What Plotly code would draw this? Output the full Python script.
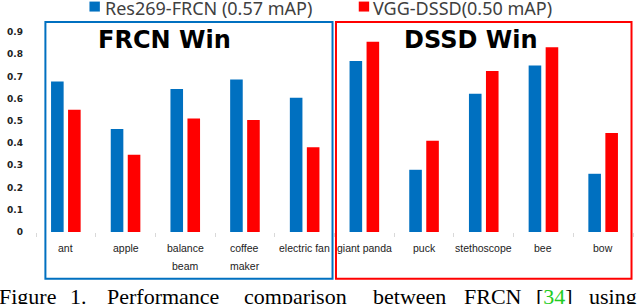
import plotly.graph_objects as go

# ---------------- data ----------------
categories = ["ant", "apple", "balance beam", "coffee maker", "electric fan",
              "giant panda", "puck", "stethoscope", "bee", "bow"]
label_lines = [["ant"], ["apple"], ["balance", "beam"], ["coffee", "maker"], ["electric fan"],
               ["giant panda"], ["puck"], ["stethoscope"], ["bee"], ["bow"]]
frcn_ap = [0.677, 0.464, 0.643, 0.686, 0.604, 0.770, 0.280, 0.622, 0.749, 0.262]
dssd_ap = [0.550, 0.348, 0.511, 0.504, 0.381, 0.856, 0.411, 0.725, 0.831, 0.446]
series_names = ["Res269-FRCN (0.57 mAP)", "VGG-DSSD(0.50 mAP)"]
group_titles = ["FRCN Win", "DSSD Win"]
caption_words = ["Figure", "1.", "Performance", "comparison", "between", "FRCN",
                 "[<span style='color:#22cc22'>34</span>]", "using"]

# ---------------- layout helpers ----------------
W, H = 640, 304
L, R, T, B = 30, 7, 32, 71.5
PW = W - L - R
PH = H - T - B


def px(x):
    return (x - L) / PW


def py(y):
    return (H - B - y) / PH


BLUE = "#0070C0"
RED = "#FF0000"

fig = go.Figure()
fig.add_trace(go.Bar(x=categories, y=frcn_ap, name=series_names[0],
                     marker=dict(color=BLUE, line=dict(width=0)), showlegend=False))
fig.add_trace(go.Bar(x=categories, y=dssd_ap, name=series_names[1],
                     marker=dict(color=RED, line=dict(width=0)), showlegend=False))

shapes = [
    dict(type="rect", xref="paper", yref="paper", x0=px(39.5), x1=px(329.5),
         y0=py(279.3), y1=py(22), line=dict(color=BLUE, width=2)),
    dict(type="rect", xref="paper", yref="paper", x0=px(333), x1=px(631.5),
         y0=py(279.3), y1=py(22), line=dict(color=RED, width=2)),
    dict(type="rect", xref="paper", yref="paper", x0=px(84), x1=px(94.5),
         y0=py(11.5), y1=py(1.5), line=dict(width=0), fillcolor=BLUE),
    dict(type="rect", xref="paper", yref="paper", x0=px(356), x1=px(366.5),
         y0=py(11.5), y1=py(1.5), line=dict(width=0), fillcolor=RED),
]

annotations = []
# legend labels
for name, xl in zip(series_names, [98, 368]):
    annotations.append(dict(text=name, xref="paper", yref="paper", x=px(xl), y=py(8),
                            xanchor="left", yanchor="middle", showarrow=False,
                            font=dict(family="Noto Sans", size=18, color="#404040")))
# group titles
for t, xc in zip(group_titles, [160, 469]):
    annotations.append(dict(text=t, xref="paper", yref="paper", x=px(xc), y=py(40),
                            xanchor="center", yanchor="middle", showarrow=False,
                            font=dict(family="DejaVu Sans", size=24, color="#000000",
                                      weight="bold")))
# category labels (each line placed separately to match line spacing)
for cat, lines in zip(categories, label_lines):
    for i, ln in enumerate(lines):
        annotations.append(dict(text=ln, xref="x", yref="paper", x=cat, y=py(248.5 + 18.2 * i),
                                xanchor="center", yanchor="middle", showarrow=False,
                                font=dict(family="Liberation Sans", size=10.5, color="#222222")))
# caption (justified words)
caption_x = [52, 62, 100, 238, 368, 460, 533, 587]
for k, (w, xl) in enumerate(zip(caption_words, caption_x)):
    annotations.append(dict(text=w, xref="paper", yref="paper", x=px(xl), y=py(297),
                            xanchor="right" if k == 0 else "left", yanchor="middle",
                            showarrow=False,
                            font=dict(family="Liberation Serif", size=22, color="#000000")))

fig.update_layout(
    width=W, height=H,
    margin=dict(l=L, r=R, t=T, b=B, pad=0),
    paper_bgcolor="white", plot_bgcolor="white",
    barmode="group", bargap=0.43, bargroupgap=0.26,
    showlegend=False,
    shapes=shapes, annotations=annotations,
    xaxis=dict(type="category", range=[-0.5, 9.5], showticklabels=False,
               tickson="boundaries", ticks="outside", ticklen=4, tickcolor="#d9d9d9",
               showgrid=False, showline=False, zeroline=False),
    yaxis=dict(range=[0, 0.9], dtick=0.1, tick0=0, showgrid=False, zeroline=False,
               showline=False, ticks="", ticklabelstandoff=12,
               tickfont=dict(family="DejaVu Sans", size=9, color="#222222", weight="bold")),
)

fig.write_html("out.html",
               config={"displayModeBar": False},
               post_script="document.body.style.margin='0';document.body.style.overflow='hidden';")
